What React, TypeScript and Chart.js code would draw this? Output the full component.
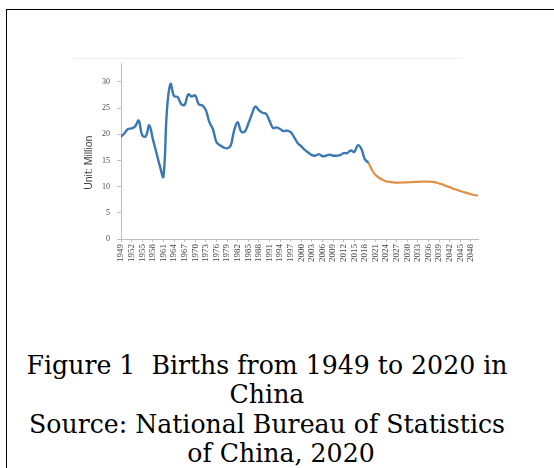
import { useEffect, useRef } from "react";
import { Chart, registerables } from "chart.js";

Chart.register(...registerables);

// Historical births (millions), one value per year starting 1949
const HIST_START_YEAR = 1949;
const histBirths = [
  19.5, 20.2, 21.0, 21.1, 21.5, 22.6, 19.8, 19.6, 21.7, 19.1,
  16.5, 13.9, 11.9, 24.6, 29.6, 27.3, 27.1, 25.8, 25.6, 27.6,
  27.2, 27.4, 25.7, 25.5, 24.6, 22.3, 21.0, 18.5, 17.9, 17.5,
  17.3, 17.8, 20.7, 22.3, 20.5, 20.5, 22.0, 23.8, 25.3, 24.6,
  24.1, 23.9, 22.6, 21.2, 21.3, 21.0, 20.6, 20.7, 20.4, 19.4,
  18.3, 17.7, 17.0, 16.5, 16.0, 15.9, 16.2, 15.8, 15.9, 16.1,
  15.9, 15.9, 16.0, 16.4, 16.4, 16.9, 16.6, 17.9, 17.2, 15.2,
  14.6,
];

// Projected births (millions), one value per year starting 2019
const PROJ_START_YEAR = 2019;
const projBirths = [
  14.6, 13.2, 12.2, 11.7, 11.3, 11.0, 10.9, 10.8, 10.75, 10.75,
  10.8, 10.8, 10.85, 10.9, 10.9, 10.95, 10.95, 10.95, 10.9, 10.8,
  10.6, 10.4, 10.1, 9.9, 9.6, 9.4, 9.15, 8.95, 8.75, 8.55,
  8.4, 8.3,
];

const xTickYears = [
  1949, 1952, 1955, 1958, 1961, 1964, 1967, 1970, 1973, 1976, 1979, 1982,
  1985, 1988, 1991, 1994, 1997, 2000, 2003, 2006, 2009, 2012, 2015, 2018,
  2021, 2024, 2027, 2030, 2033, 2036, 2039, 2042, 2045, 2048,
];
const yTickValues = [0, 5, 10, 15, 20, 25, 30];
const X_MIN = 1949;
const X_MAX = 2050;
const Y_MIN = 0;
const Y_MAX = 33.6;
// trailing spaces push the visible text towards the lower part of the axis
const yAxisTitle = "Unit: Million\u00a0\u00a0\u00a0\u00a0\u00a0\u00a0\u00a0\u00a0";

const captionLines = [
  "Figure 1  Births from 1949 to 2020 in",
  "China",
  "Source: National Bureau of Statistics",
  "of China, 2020",
];
const captionLineIndent = [0, 0, 0, 28];

function toPoints(start: number, values: number[]) {
  return values.map((v, i) => ({ x: start + i, y: v }));
}

function BirthsChart() {
  const ref = useRef<HTMLCanvasElement | null>(null);
  useEffect(() => {
    if (!ref.current) return;
    const axisGray = "#bfbfbf";
    const chart = new Chart(ref.current, {
      type: "line",
      data: {
        datasets: [
          {
            label: "Births",
            data: toPoints(HIST_START_YEAR, histBirths),
            borderColor: "#3b78b2",
            borderWidth: 2.4,
            pointRadius: 0,
            tension: 0.4,
            fill: false,
          },
          {
            label: "Projection",
            data: toPoints(PROJ_START_YEAR, projBirths),
            borderColor: "#df9146",
            borderWidth: 2.2,
            pointRadius: 0,
            tension: 0.4,
            fill: false,
          },
        ],
      },
      options: {
        animation: false,
        responsive: false,
        maintainAspectRatio: false,
        events: [],
        layout: { padding: { left: 60, top: 63, right: 76, bottom: 11 } },
        plugins: {
          legend: { display: false },
          tooltip: { enabled: false },
        },
        scales: {
          x: {
            type: "linear",
            min: X_MIN,
            max: X_MAX,
            afterBuildTicks: (s: any) => {
              s.ticks = xTickYears.map((v) => ({ value: v }));
            },
            afterFit: (s: any) => {
              s.height = 40;
            },
            ticks: {
              autoSkip: false,
              minRotation: 90,
              maxRotation: 90,
              padding: 2,
              color: "#444",
              font: { family: "Liberation Serif", size: 9 },
              callback: (v: any) => String(v),
            },
            grid: {
              display: true,
              drawOnChartArea: false,
              drawTicks: true,
              tickLength: 3,
              color: axisGray,
            },
            border: { display: true, color: axisGray, width: 1 },
          },
          y: {
            min: Y_MIN,
            max: Y_MAX,
            afterBuildTicks: (s: any) => {
              s.ticks = yTickValues.map((v) => ({ value: v }));
            },
            afterFit: (s: any) => {
              s.width = 61;
            },
            ticks: {
              padding: 7,
              color: "#4a4a4a",
              font: { family: "Liberation Serif", size: 8 },
              callback: (v: any) => String(v),
            },
            grid: {
              display: true,
              drawOnChartArea: false,
              drawTicks: true,
              tickLength: 4,
              color: axisGray,
            },
            border: { display: true, color: axisGray, width: 1 },
            title: {
              display: true,
              text: yAxisTitle,
              color: "#404040",
              font: { family: "Liberation Sans", size: 10.5 },
              padding: { top: 22.5, bottom: 0 },
            },
          },
        },
      },
    });
    return () => chart.destroy();
  }, []);
  return (
    <canvas
      ref={ref}
      width={554}
      height={290}
      style={{ position: "absolute", left: 0, top: 0, width: 554, height: 290 }}
    />
  );
}

export default function App() {
  return (
    <div
      style={{
        position: "absolute",
        left: 0,
        top: 0,
        width: 554,
        height: 468,
        overflow: "hidden",
        background: "#fff",
      }}
    >
      <div
        style={{
          position: "absolute",
          left: 6,
          top: 9,
          width: 600,
          height: 500,
          borderLeft: "1px solid #000",
          borderTop: "1px solid #000",
        }}
      />
      <div
        style={{
          position: "absolute",
          left: 73,
          top: 58,
          width: 389,
          height: 0,
          borderTop: "1px solid #f1f1f1",
        }}
      />
      <BirthsChart />
      <div
        style={{
          position: "absolute",
          left: 6,
          top: 351,
          width: 522,
          textAlign: "center",
          fontFamily: "'DejaVu Serif', serif",
          fontSize: 25.2,
          lineHeight: "29.3px",
          color: "#000",
        }}
      >
        {captionLines.map((t, i) => (
          <div
            key={i}
            style={{ whiteSpace: "pre", paddingLeft: captionLineIndent[i] }}
          >
            {t}
          </div>
        ))}
      </div>
    </div>
  );
}
